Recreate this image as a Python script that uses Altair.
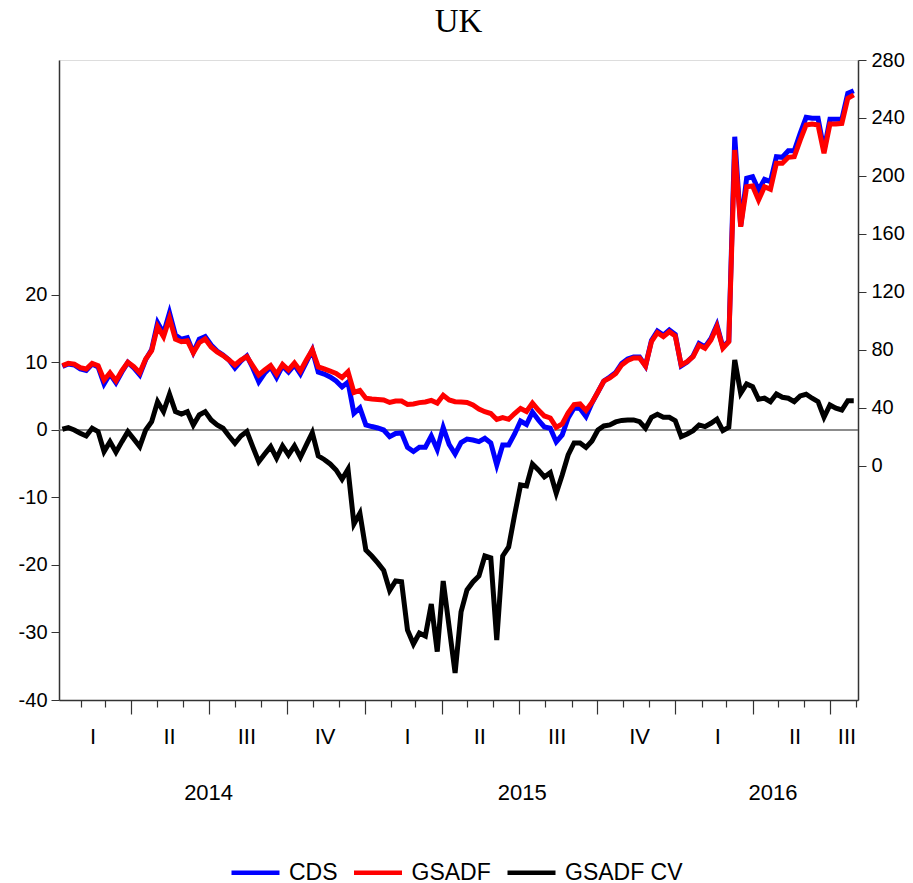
import altair as alt
import pandas as pd

# ---------------- data ----------------
first_obs = "2014-01-10"          # weekly observations
n_obs = 134
obs_dates = pd.date_range(first_obs, periods=n_obs, freq="7D").strftime("%Y-%m-%d").tolist()

cds = [68.6, 70.3, 69.7, 66.9, 65.9, 70.3, 68.3, 56.6, 63.4, 57.4,
       64.8, 71.4, 67.6, 62.8, 73.4, 80.3, 98.8, 91.5, 105.7, 90.3,
       87.4, 88.5, 78.3, 87.4, 89.2, 83.4, 79.3, 76.6, 73.1, 67.6,
       72.4, 75.9, 67.6, 58.1, 64.1, 68.3, 61.0, 69.0, 64.8, 69.7,
       63.4, 71.7, 80.0, 64.8, 63.4, 61.4, 58.6, 54.5, 57.9, 36.3,
       40.0, 28.3, 27.2, 26.2, 24.8, 20.2, 22.4, 22.8, 12.8, 10.0,
       12.9, 12.9, 20.7, 11.4, 26.6, 14.8, 8.3, 16.2, 18.6, 17.9,
       16.8, 19.1, 15.9, 0.7, 14.5, 14.5, 22.1, 31.0, 28.6, 37.2,
       31.7, 26.9, 26.0, 16.6, 21.4, 33.1, 40.0, 39.7, 34.1, 43.4,
       51.0, 58.6, 61.4, 64.5, 70.7, 73.8, 75.2, 75.2, 69.0, 86.6,
       93.1, 90.3, 93.8, 90.7, 69.0, 71.7, 75.9, 84.5, 82.1, 87.9,
       97.2, 82.1, 86.2, 227.1, 165.5, 198.4, 199.5, 190.3, 197.7, 196.1,
       213.3, 212.9, 217.4, 217.4, 229.4, 240.5, 239.8, 239.8, 217.9, 239.1,
       239.1, 239.1, 257.0, 258.8]

gsadf = [69.2, 70.8, 70.3, 67.8, 66.9, 70.8, 69.2, 59.3, 64.3, 58.8,
         65.7, 71.5, 68.5, 64.3, 73.8, 79.5, 96.1, 89.2, 101.9, 87.4,
         85.7, 86.4, 78.1, 85.0, 87.6, 82.1, 78.6, 76.2, 73.1, 69.7,
         73.1, 75.5, 69.0, 62.8, 66.2, 69.3, 63.4, 70.0, 66.2, 71.0,
         65.5, 73.1, 80.0, 68.3, 66.9, 65.5, 63.8, 61.0, 65.0, 50.7,
         52.1, 46.7, 46.2, 45.9, 45.5, 43.8, 44.8, 44.8, 42.4, 42.8,
         43.7, 44.1, 45.2, 43.4, 48.8, 45.5, 44.3, 44.1, 43.8, 42.1,
         39.3, 37.4, 36.2, 32.1, 33.4, 32.2, 36.2, 39.7, 37.6, 43.4,
         38.6, 34.5, 33.1, 26.6, 29.0, 36.6, 42.4, 42.8, 38.3, 43.8,
         51.0, 58.6, 60.7, 63.8, 69.7, 72.8, 74.5, 74.5, 69.0, 85.7,
         91.9, 89.2, 92.6, 89.7, 69.7, 71.9, 75.4, 83.4, 81.2, 86.9,
         96.1, 81.2, 85.7, 217.9, 165.0, 192.6, 193.1, 183.4, 192.6, 190.8,
         208.8, 208.8, 212.9, 213.3, 224.8, 235.2, 235.9, 235.2, 215.7, 235.9,
         235.9, 236.3, 253.6, 255.9]

gsadf_cv = [0.10, 0.34, 0.00, -0.49, -0.89, 0.25, -0.25, -3.21, -1.73, -3.30,
            -1.73, -0.25, -1.33, -2.47, 0.00, 1.23, 4.19, 2.71, 5.29, 2.71,
            2.37, 2.71, 0.74, 2.22, 2.71, 1.48, 0.74, 0.25, -0.89, -1.97,
            -0.89, -0.22, -2.52, -4.70, -3.56, -2.47, -4.19, -2.37, -3.70, -2.37,
            -4.04, -2.22, -0.40, -3.85, -4.37, -5.04, -5.93, -7.30, -5.82, -13.93,
            -12.34, -17.78, -18.67, -19.70, -20.81, -23.78, -22.37, -22.47, -29.63, -31.70,
            -30.07, -30.52, -25.78, -32.84, -22.37, -29.19, -36.00, -26.96, -23.70, -22.52,
            -21.63, -18.67, -18.96, -31.11, -18.67, -17.33, -12.59, -8.15, -8.30, -5.04,
            -5.93, -6.96, -6.33, -9.38, -6.67, -3.70, -1.93, -1.93, -2.59, -1.63,
            0.00, 0.59, 0.74, 1.19, 1.41, 1.48, 1.48, 1.23, 0.25, 1.88,
            2.33, 1.88, 1.88, 1.38, -0.99, -0.59, -0.10, 0.74, 0.49, 0.99,
            1.59, -0.10, 0.40, 10.37, 5.44, 6.81, 6.41, 4.55, 4.70, 4.19,
            5.33, 4.84, 4.70, 4.19, 5.04, 5.29, 4.70, 4.19, 1.88, 3.70,
            3.23, 2.96, 4.34, 4.34]

series_names = ["CDS", "GSADF", "GSADF CV"]
series_colors = ["#0000FF", "#FF0000", "#000000"]

left_ticks = [-40, -30, -20, -10, 0, 10, 20]
right_ticks = [0, 40, 80, 120, 160, 200, 240, 280]

quarter_dates = ["2014-02-15", "2014-05-16", "2014-08-15", "2014-11-15",
                 "2015-02-20", "2015-05-16", "2015-08-15", "2015-11-20",
                 "2016-02-20", "2016-05-21", "2016-07-21"]
quarter_labels = ["I", "II", "III", "IV", "I", "II", "III", "IV", "I", "II", "III"]
year_dates = ["2014-07-01", "2015-07-05", "2016-04-25"]
year_labels = ["2014", "2015", "2016"]

# ---------------- tables ----------------
df_right = pd.concat([
    pd.DataFrame({"date": obs_dates, "value": cds, "series": "CDS"}),
    pd.DataFrame({"date": obs_dates, "value": gsadf, "series": "GSADF"}),
])
df_left = pd.DataFrame({"date": obs_dates, "value": gsadf_cv, "series": "GSADF CV"})
df_zero = pd.DataFrame({"zero": [0]})
df_quarters = pd.DataFrame({"date": quarter_dates, "label": quarter_labels})
df_years = pd.DataFrame({"date": year_dates, "label": year_labels})

W, H = 799, 640
FONT = "Liberation Sans"

month_ticks = []
for yy in (2014, 2015, 2016):
    for mm in range(1, 13):
        if (yy == 2014 and mm == 1) or (yy == 2016 and mm > 8):
            continue
        month_ticks.append(alt.DateTime(year=yy, month=mm, date=1))

x_scale = alt.Scale(domain=[alt.DateTime(year=2014, month=1, date=6),
                            alt.DateTime(year=2016, month=8, date=3)])
x_axis = alt.Axis(values=month_ticks, labels=False, title=None, grid=False,
                  tickSize={"condition": {"test": "month(datum.value) % 3 == 0", "value": 14},
                            "value": 7},
                  tickColor="#333333", tickWidth=1.2,
                  domainColor="#333333", domainWidth=1.5)
x_enc = alt.X("date:T", scale=x_scale, axis=x_axis, title=None)

color_enc = alt.Color(
    "series:N",
    scale=alt.Scale(domain=series_names, range=series_colors),
    legend=alt.Legend(orient="none", legendX=170, legendY=786, direction="horizontal",
                      title=None, symbolType="stroke", symbolSize=2304,
                      symbolStrokeWidth=4.5, labelFont=FONT, labelFontSize=23,
                      labelColor="black", labelOffset=7, columnPadding=6.5,
                      padding=0, labelLimit=400),
)

left_scale = alt.Scale(domain=[-40, 54.8], nice=False, zero=False)
right_scale = alt.Scale(domain=[-161.4, 280], nice=False, zero=False)

left_axis = alt.Axis(orient="left", values=left_ticks, title=None, grid=False,
                     tickSize=8, labelPadding=4, labelFontSize=20,
                     labelExpr="'' + datum.value",
                     domainColor="#333333", domainWidth=1.5, tickColor="#333333")
right_axis = alt.Axis(orient="right", values=right_ticks, title=None, grid=False,
                      tickSize=8, labelPadding=5, labelFontSize=20,
                      domainColor="#333333", domainWidth=1.5, tickColor="#333333")

zero_rule = alt.Chart(df_zero).mark_rule(color="#666666", strokeWidth=1.6).encode(
    y=alt.Y("zero:Q", scale=left_scale, axis=left_axis)
)
cv_line = alt.Chart(df_left).mark_line(strokeWidth=5).encode(
    x=x_enc,
    y=alt.Y("value:Q", scale=left_scale, axis=left_axis),
    color=color_enc,
)
left_layer = alt.layer(zero_rule, cv_line)

right_layer = alt.Chart(df_right).mark_line(strokeWidth=5).encode(
    x=x_enc,
    y=alt.Y("value:Q", scale=right_scale, axis=right_axis),
    color=color_enc,
)

quarter_text = alt.Chart(df_quarters).mark_text(
    font=FONT, fontSize=22, color="black", baseline="middle", align="center"
).encode(x=x_enc, y=alt.value(H + 37), text="label:N")

year_text = alt.Chart(df_years).mark_text(
    font=FONT, fontSize=22, color="black", baseline="middle", align="center"
).encode(x=x_enc, y=alt.value(H + 93), text="label:N")

chart = alt.layer(left_layer, right_layer, quarter_text, year_text).resolve_scale(
    y="independent"
).properties(
    width=W,
    height=H,
    autosize=alt.AutoSizeParams(type="none"),
    padding={"left": 51, "top": 52, "right": 47, "bottom": 200},
    title=alt.TitleParams("UK", font="Liberation Serif", fontSize=33, fontWeight="normal",
                          color="black", anchor="middle", offset=11),
).configure_axis(
    labelFont=FONT, labelColor="black"
).configure_view(
    stroke="#888888", strokeWidth=1.2
).configure(background="white")

chart.save("out.html", embed_options={"renderer": "svg", "actions": False})
